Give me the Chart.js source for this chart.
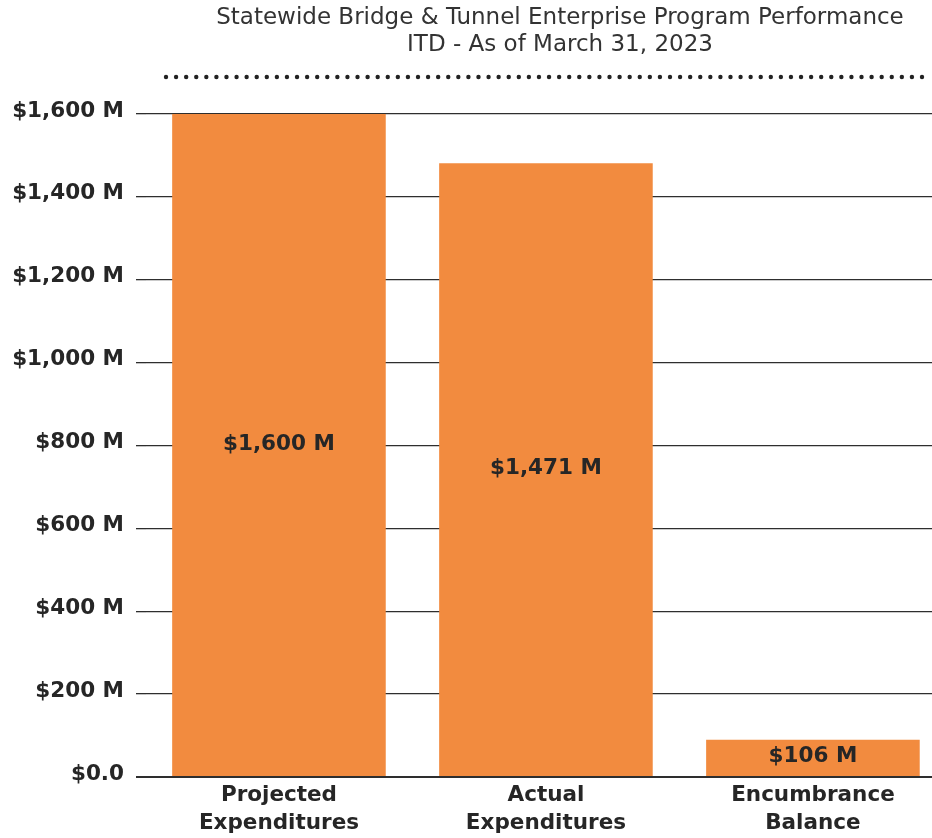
<!DOCTYPE html>
<html>
<head>
<meta charset="utf-8">
<style>
  html, body { margin: 0; padding: 0; background: #fff; }
  #wrap { width: 932px; height: 838px; position: relative; }
</style>
<script src="https://cdn.jsdelivr.net/npm/chart.js@4"></script>
</head>
<body>
<div id="wrap"><canvas id="perfChart"></canvas></div>
<script>
// data
const categories = [["Projected", "Expenditures"], ["Actual", "Expenditures"], ["Encumbrance", "Balance"]];
const amounts = [1600, 1481, 90];           // bar heights as drawn ($M)
const amountLabels = ["$1,600 M", "$1,471 M", "$106 M"];
const yTicks = [0, 200, 400, 600, 800, 1000, 1200, 1400, 1600];
const yTickLabels = ["$0.0", "$200 M", "$400 M", "$600 M", "$800 M", "$1,000 M", "$1,200 M", "$1,400 M", "$1,600 M"];
const titleLines = ["Statewide Bridge & Tunnel Enterprise Program Performance", "ITD - As of March 31, 2023"];

const barColor = "#F28B3F";
const textColor = "#262626";
const boldFont = { family: "'DejaVu Sans', sans-serif", size: 21.5, weight: "bold" };

// title + dotted rule on top
const headerPlugin = {
  id: "header",
  afterDraw(chart) {
    const ctx = chart.ctx;
    ctx.save();
    ctx.fillStyle = "#333";
    ctx.font = "23px 'DejaVu Sans', sans-serif";
    ctx.textAlign = "center";
    ctx.textBaseline = "middle";
    ctx.fillText(titleLines[0], 560, 18);
    ctx.fillText(titleLines[1], 560, 45);
    // dotted line
    ctx.fillStyle = "#222";
    const x0 = 166, x1 = 922, n = 76;
    for (let i = 0; i < n; i++) {
      const x = x0 + (x1 - x0) * i / (n - 1);
      ctx.beginPath();
      ctx.arc(x, 77, 2.2, 0, Math.PI * 2);
      ctx.fill();
    }
    ctx.restore();
  }
};

// value labels in the middle of each bar
const barLabelPlugin = {
  id: "barLabels",
  afterDatasetsDraw(chart) {
    const ctx = chart.ctx;
    const meta = chart.getDatasetMeta(0);
    ctx.save();
    ctx.fillStyle = textColor;
    ctx.font = "bold 21.5px 'DejaVu Sans', sans-serif";
    ctx.textAlign = "center";
    ctx.textBaseline = "middle";
    meta.data.forEach((bar, i) => {
      ctx.fillText(amountLabels[i], bar.x, (bar.y + bar.base) / 2 - 1);
    });
    ctx.restore();
  }
};

const ctx = document.getElementById("perfChart").getContext("2d");
new Chart(ctx, {
  type: "bar",
  data: {
    datasets: [{
      data: amounts.map((v, i) => ({ x: i, y: v })),
      backgroundColor: barColor,
      borderWidth: 0,
      barPercentage: 0.8,
      categoryPercentage: 1
    }]
  },
  options: {
    responsive: true,
    maintainAspectRatio: false,
    animation: false,
    layout: { padding: { top: 114, left: 0, right: 0, bottom: 0 } },
    plugins: {
      legend: { display: false },
      title: { display: false },
      tooltip: { enabled: false }
    },
    scales: {
      x: {
        type: "linear",
        offset: false,
        min: -0.498,
        max: 2.446,
        grid: { display: false },
        border: { display: false },
        afterBuildTicks: s => { s.ticks = categories.map((c, i) => ({ value: i })); },
        afterFit: s => { s.height = 61; },
        ticks: {
          autoSkip: false,
          maxRotation: 0,
          padding: -4,
          color: textColor,
          font: { ...boldFont, lineHeight: 1.33 },
          callback: v => categories[v]
        }
      },
      y: {
        min: 0,
        max: 1600,
        afterBuildTicks: s => { s.ticks = yTicks.map(v => ({ value: v })); },
        afterFit: s => { s.width = 146; },
        border: { display: false },
        grid: {
          color: "#2e2e2e",
          lineWidth: c => (c.tick && c.tick.value === 0 ? 2 : 1.3),
          tickLength: 10,
          drawTicks: true
        },
        ticks: {
          padding: 12,
          labelOffset: -3,
          color: textColor,
          font: boldFont,
          callback: (v) => yTickLabels[yTicks.indexOf(v)]
        }
      }
    }
  },
  plugins: [headerPlugin, barLabelPlugin]
});
</script>
</body>
</html>
